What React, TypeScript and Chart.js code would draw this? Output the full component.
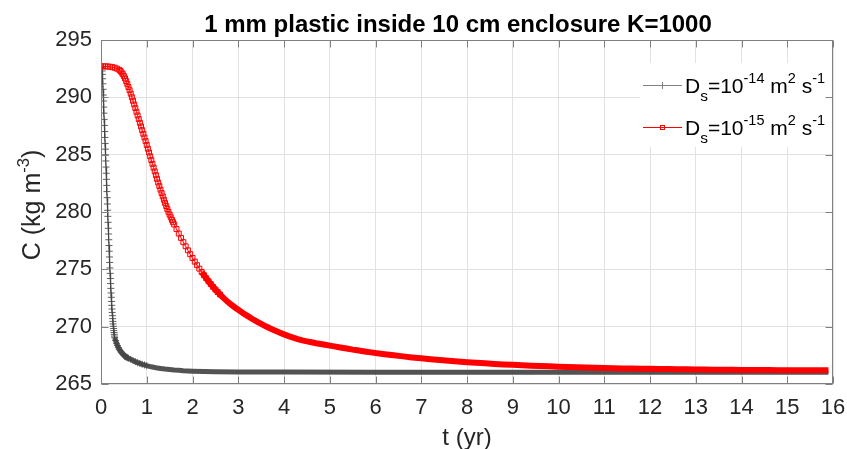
import React, { useEffect, useRef } from 'react';
import { Chart, registerables } from 'chart.js';

Chart.register(...registerables);

const FONT = '"Liberation Sans", Arial, Helvetica, sans-serif';
const TITLE = '1 mm plastic inside 10 cm enclosure K=1000';
const X_TITLE = 't (yr)';
const Y_TITLE = 'C (kg m^{-3})';
const SERIES_LABELS = ['D_s=10^{-14} m^2 s^{-1}', 'D_s=10^{-15} m^2 s^{-1}'];
const X_TICKS = [0, 1, 2, 3, 4, 5, 6, 7, 8, 9, 10, 11, 12, 13, 14, 15, 16];
const Y_TICKS = [265, 270, 275, 280, 285, 290, 295];

// D_s = 1e-14 (black)
const blackT = [
  0, 0.005, 0.01, 0.015, 0.02, 0.025, 0.03, 0.035, 0.04, 0.045,
  0.05, 0.055, 0.06, 0.065, 0.07, 0.075, 0.08, 0.085, 0.09, 0.095,
  0.1, 0.105, 0.11, 0.115, 0.12, 0.125, 0.13, 0.135, 0.14, 0.145,
  0.15, 0.155, 0.16, 0.165, 0.17, 0.175, 0.18, 0.185, 0.19, 0.195,
  0.2, 0.205, 0.21, 0.215, 0.22, 0.225, 0.23, 0.235, 0.24, 0.245,
  0.25, 0.255, 0.26, 0.265, 0.27, 0.275, 0.28, 0.285, 0.29, 0.295,
  0.3, 0.32, 0.34, 0.36, 0.38, 0.4, 0.42, 0.44, 0.46, 0.48,
  0.5, 0.52, 0.54, 0.56, 0.58, 0.6, 0.65, 0.7, 0.75, 0.8,
  0.85, 0.9, 0.95, 1.0, 1.1, 1.2, 1.3, 1.4, 1.5, 1.6,
  1.7, 1.8, 2.0, 2.25, 2.5, 3, 4, 6, 8, 10, 12, 14, 15.9,
];
const blackC = [
  292.7, 292.7, 292.68, 292.62, 292.5, 292.3, 292.0, 291.62, 291.18, 290.7,
  290.2, 289.68, 289.15, 288.62, 288.08, 287.55, 287.02, 286.5, 285.98, 285.48,
  284.98, 284.45, 283.92, 283.38, 282.85, 282.32, 281.78, 281.25, 280.7, 280.15,
  279.62, 279.1, 278.58, 278.08, 277.58, 277.08, 276.58, 276.08, 275.6, 275.12,
  274.65, 274.2, 273.76, 273.34, 272.94, 272.56, 272.2, 271.86, 271.54, 271.24,
  270.96, 270.7, 270.46, 270.24, 270.03, 269.84, 269.66, 269.49, 269.33, 269.18,
  269.04, 268.78, 268.55, 268.35, 268.18, 268.03, 267.9, 267.79, 267.69, 267.6,
  267.52, 267.45, 267.39, 267.34, 267.29, 267.25, 267.15, 267.04, 266.95, 266.86,
  266.79, 266.72, 266.66, 266.6, 266.5, 266.42, 266.36, 266.3, 266.26, 266.22,
  266.19, 266.16, 266.12, 266.09, 266.07, 266.05, 266.04, 266.03, 266.03, 266.03, 266.03, 266.03, 266.03,
];

// D_s = 1e-15 (red)
const redT = [
  0, 0.05, 0.1, 0.15, 0.2, 0.25, 0.3, 0.35, 0.4,
  0.425, 0.45, 0.475, 0.5, 0.525, 0.55, 0.575, 0.6, 0.625, 0.65,
  0.675, 0.7, 0.725, 0.75, 0.775, 0.8, 0.825, 0.85, 0.875, 0.9,
  0.925, 0.95, 0.975, 1.0, 1.025, 1.05, 1.075, 1.1, 1.125, 1.15,
  1.175, 1.2, 1.225, 1.25, 1.275, 1.3, 1.325, 1.35, 1.375, 1.4,
  1.425, 1.45, 1.475, 1.5, 1.525, 1.55, 1.575, 1.6,
  1.65, 1.7, 1.75, 1.8, 1.85, 1.9, 1.95, 2.0, 2.05, 2.1,
  2.15, 2.2, 2.25, 2.3, 2.35, 2.4, 2.45, 2.5, 2.55, 2.6,
  2.65, 2.7, 2.75, 2.8, 2.85, 2.9, 2.95, 3.0,
  3.1, 3.2, 3.3, 3.4, 3.5, 3.6, 3.7, 3.8, 3.9, 4.0,
  4.1, 4.2, 4.3, 4.4, 4.5, 4.6, 4.7, 4.8, 4.9, 5.0,
  5.1, 5.2, 5.3, 5.4, 5.5, 5.6, 5.7, 5.8, 5.9, 6.0,
  6.2, 6.4, 6.6, 6.8, 7.0, 7.2, 7.4, 7.6, 7.8, 8.0,
  8.2, 8.4, 8.6, 8.8, 9.0, 9.2, 9.4, 9.6, 9.8, 10.0,
  10.2, 10.4, 10.6, 10.8, 11.0, 11.2, 11.4, 11.6, 11.8, 12.0,
  12.2, 12.4, 12.6, 12.8, 13.0, 13.2, 13.4, 13.6, 13.8, 14.0,
  14.2, 14.4, 14.6, 14.8, 15.0, 15.2, 15.4, 15.6, 15.8, 15.9,
];
const redC = [
  292.7, 292.7, 292.7, 292.69, 292.67, 292.63, 292.58, 292.5, 292.4,
  292.3, 292.17, 292.02, 291.85, 291.65, 291.42, 291.17, 290.9, 290.62, 290.32,
  290.01, 289.7, 289.38, 289.06, 288.74, 288.42, 288.1, 287.78, 287.46, 287.14,
  286.82, 286.5, 286.18, 285.85, 285.52, 285.19, 284.86, 284.53, 284.2, 283.87,
  283.54, 283.21, 282.89, 282.57, 282.26, 281.95, 281.65, 281.36, 281.07, 280.79,
  280.52, 280.26, 280.01, 279.77, 279.54, 279.32, 279.11, 278.91,
  278.51, 278.12, 277.74, 277.37, 277.01, 276.66, 276.32, 275.99, 275.67, 275.36,
  275.06, 274.77, 274.49, 274.22, 273.96, 273.71, 273.47, 273.24, 273.02, 272.81,
  272.61, 272.42, 272.24, 272.07, 271.91, 271.76, 271.61, 271.47,
  271.2, 270.94, 270.69, 270.46, 270.24, 270.03, 269.84, 269.66, 269.49, 269.33,
  269.18, 269.04, 268.91, 268.8, 268.72, 268.64, 268.56, 268.49, 268.42, 268.35,
  268.28, 268.21, 268.14, 268.07, 268.0, 267.94, 267.88, 267.82, 267.76, 267.7,
  267.6, 267.5, 267.41, 267.32, 267.24, 267.16, 267.09, 267.02, 266.96, 266.9,
  266.85, 266.8, 266.75, 266.71, 266.67, 266.63, 266.6, 266.57, 266.54, 266.51,
  266.49, 266.46, 266.44, 266.42, 266.4, 266.38, 266.36, 266.35, 266.33, 266.32,
  266.31, 266.3, 266.29, 266.28, 266.27, 266.26, 266.25, 266.25, 266.24, 266.23,
  266.23, 266.22, 266.22, 266.21, 266.21, 266.2, 266.2, 266.2, 266.19, 266.19,
];

const AXIS_COLOR = '#808080';
const GRID_COLOR = '#e2e2e2';
const TEXT_COLOR = '#262626';
const BLACK = 'rgba(64,64,64,0.9)';
const RED = '#ff0000';

type Part = { t: string; size: number; dy: number };

function parseTex(s: string, base: number, small: number): Part[] {
  const parts: Part[] = [];
  let buf = '';
  let i = 0;
  const flush = () => {
    if (buf) parts.push({ t: buf, size: base, dy: 0 });
    buf = '';
  };
  while (i < s.length) {
    const ch = s[i];
    if (ch === '_' || ch === '^') {
      flush();
      let txt: string;
      if (s[i + 1] === '{') {
        const j = s.indexOf('}', i + 2);
        txt = s.slice(i + 2, j);
        i = j + 1;
      } else {
        txt = s[i + 1];
        i += 2;
      }
      if (ch === '_') parts.push({ t: txt, size: small + 1, dy: base * 0.36 });
      else parts.push({ t: txt, size: small, dy: -base * 0.46 });
    } else {
      buf += ch;
      i++;
    }
  }
  flush();
  return parts;
}

function drawRich(ctx: CanvasRenderingContext2D, x: number, y: number, parts: Part[], align: 'left' | 'center') {
  const widths = parts.map((p) => {
    ctx.font = `${p.size}px ${FONT}`;
    return ctx.measureText(p.t).width;
  });
  const total = widths.reduce((a, b) => a + b, 0);
  let cx = align === 'center' ? x - total / 2 : x;
  ctx.textAlign = 'left';
  ctx.textBaseline = 'alphabetic';
  parts.forEach((p, k) => {
    ctx.font = `${p.size}px ${FONT}`;
    ctx.fillText(p.t, cx, y + p.dy);
    cx += widths[k];
  });
}

const decorPlugin = {
  id: 'decor',
  afterDraw(chart: any) {
    const { ctx, chartArea: a, scales } = chart;
    const xs = scales.x;
    const ys = scales.y;
    ctx.save();

    // legend box
    const lx = a.right - 193;
    const ly = a.top + 23;
    ctx.fillStyle = '#ffffff';
    ctx.fillRect(lx, ly, 190, 84);

    // axes box
    ctx.strokeStyle = AXIS_COLOR;
    ctx.lineWidth = 1;
    const L = Math.round(a.left) + 0.5;
    const R = Math.round(a.right) - 0.5;
    const T = Math.round(a.top) + 0.5;
    const B = Math.round(a.bottom) - 0.5;
    ctx.strokeRect(L, T, R - L, B - T);
    ctx.beginPath();
    for (const v of X_TICKS) {
      const px = Math.round(xs.getPixelForValue(v)) + 0.5;
      ctx.moveTo(px, B);
      ctx.lineTo(px, B - 7);
      ctx.moveTo(px, T);
      ctx.lineTo(px, T + 7);
    }
    for (const v of Y_TICKS) {
      const py = Math.round(ys.getPixelForValue(v)) + 0.5;
      ctx.moveTo(L, py);
      ctx.lineTo(L + 7, py);
      ctx.moveTo(R, py);
      ctx.lineTo(R - 7, py);
    }
    ctx.stroke();

    // title
    ctx.fillStyle = '#000000';
    ctx.font = `bold 24px ${FONT}`;
    ctx.textAlign = 'center';
    ctx.textBaseline = 'alphabetic';
    ctx.fillText(TITLE, 458, a.top - 8);

    // axis titles
    ctx.fillStyle = TEXT_COLOR;
    drawRich(ctx, (a.left + a.right) / 2, 445, parseTex(X_TITLE, 24, 16), 'center');
    ctx.save();
    ctx.translate(40, (a.top + a.bottom) / 2 - 7);
    ctx.rotate(-Math.PI / 2);
    drawRich(ctx, 0, 0, parseTex(Y_TITLE, 25, 16.5), 'center');
    ctx.restore();

    // legend entries
    const rows = [a.top + 45, a.top + 87];
    rows.forEach((yy, k) => {
      const x0 = lx + 3;
      const x1 = lx + 42;
      const xm = (x0 + x1) / 2;
      ctx.lineWidth = 1;
      ctx.strokeStyle = k === 0 ? '#808080' : RED;
      ctx.beginPath();
      ctx.moveTo(x0, yy + 0.5);
      ctx.lineTo(x1, yy + 0.5);
      ctx.stroke();
      if (k === 0) {
        ctx.beginPath();
        ctx.moveTo(xm, yy - 3);
        ctx.lineTo(xm, yy + 4);
        ctx.stroke();
      } else {
        ctx.strokeRect(xm - 2, yy - 1.5, 4, 4);
      }
      ctx.fillStyle = '#000000';
      drawRich(ctx, lx + 45, yy + 8, parseTex(SERIES_LABELS[k], 21, 14.5), 'left');
    });

    ctx.restore();
  },
};

export default function App() {
  const ref = useRef<HTMLCanvasElement>(null);
  useEffect(() => {
    document.body.style.margin = '0';
    const black = blackT.map((t, i) => ({ x: t, y: blackC[i] }));
    const red = redT.map((t, i) => ({ x: t, y: redC[i] }));
    const chart = new Chart(ref.current as HTMLCanvasElement, {
      type: 'line',
      data: {
        datasets: [
          {
            label: SERIES_LABELS[1],
            data: red,
            order: 0,
            borderColor: RED,
            borderWidth: 1,
            pointStyle: 'rect',
            pointRadius: (c: any) => (c.raw && c.raw.x <= 2.6 ? 3.5 : 0),
            pointBorderColor: RED,
            pointBackgroundColor: 'rgba(255,0,0,0.08)',
            pointBorderWidth: 1,
            segment: { borderWidth: (c: any) => (c.p0.parsed.x >= 2.2 ? 6 : 1) },
          } as any,
          {
            label: SERIES_LABELS[0],
            data: black,
            order: 1,
            borderColor: BLACK,
            borderWidth: 1,
            pointStyle: 'cross',
            pointRadius: (c: any) => (c.raw && c.raw.x <= 1.0 ? 3.5 : 0),
            pointBorderColor: 'rgba(70,70,70,0.85)',
            pointBorderWidth: 1,
            segment: { borderWidth: (c: any) => (c.p0.parsed.x >= 0.3 ? 5 : 1) },
          } as any,
        ],
      },
      options: {
        responsive: false,
        animation: false,
        layout: { padding: { top: 40, right: 14, left: 0, bottom: 0 } },
        plugins: {
          legend: { display: false },
          title: { display: false },
          tooltip: { enabled: false },
        },
        events: [],
        scales: {
          x: {
            type: 'linear',
            min: 0,
            max: 16,
            afterFit: (s: any) => {
              s.height = 65;
              s.paddingLeft = 0;
              s.paddingRight = 0;
            },
            afterBuildTicks: (s: any) => {
              s.ticks = X_TICKS.map((v) => ({ value: v }));
            },
            ticks: {
              font: { family: FONT, size: 22 },
              color: TEXT_COLOR,
              padding: 11,
              maxRotation: 0,
              autoSkip: false,
            },
            grid: { color: GRID_COLOR, lineWidth: 1, drawTicks: false },
            border: { display: false },
          },
          y: {
            type: 'linear',
            min: 265,
            max: 295,
            afterFit: (s: any) => {
              s.width = 101;
              s.paddingTop = 0;
              s.paddingBottom = 0;
            },
            afterBuildTicks: (s: any) => {
              s.ticks = Y_TICKS.map((v) => ({ value: v }));
            },
            ticks: {
              font: { family: FONT, size: 22 },
              color: TEXT_COLOR,
              padding: 9,
            },
            grid: { color: GRID_COLOR, lineWidth: 1, drawTicks: false },
            border: { display: false },
          },
        },
      } as any,
      plugins: [decorPlugin],
    });
    return () => chart.destroy();
  }, []);
  return (
    <div style={{ position: 'fixed', left: 0, top: 0, width: 847, height: 449, background: '#fff' }}>
      <canvas ref={ref} width={847} height={449} style={{ width: 847, height: 449, display: 'block' }} />
    </div>
  );
}
